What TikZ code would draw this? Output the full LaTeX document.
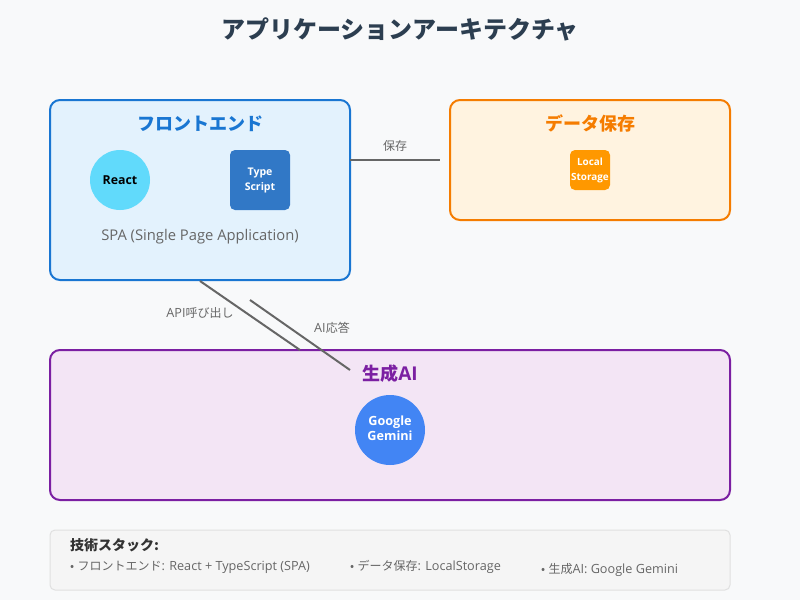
\documentclass[tikz,border=0pt]{standalone}
\usepackage{fontspec}
\setmainfont[Scale=1.055]{Open Sans}
\newfontfamily\jpfont{Noto Sans CJK JP}
\newcommand{\jp}[1]{{\jpfont #1}}
\definecolor{pagebg}{HTML}{F8F9FA}
\definecolor{titlecol}{HTML}{2C3E50}
\definecolor{linecol}{HTML}{666666}
\definecolor{frontcol}{HTML}{1976D2}
\definecolor{frontbg}{HTML}{E3F2FD}
\definecolor{storecol}{HTML}{F57C00}
\definecolor{storebg}{HTML}{FFF3E0}
\definecolor{genaicol}{HTML}{7B1FA2}
\definecolor{genaibg}{HTML}{F3E5F5}
\definecolor{stackcol}{HTML}{E0E0E0}
\definecolor{stackbg}{HTML}{F5F5F5}
\definecolor{reactcol}{HTML}{61DAFB}
\definecolor{typecol}{HTML}{3178C6}
\definecolor{localcol}{HTML}{FF9800}
\definecolor{geminicol}{HTML}{4285F4}
\tikzset{
	groupbox/.style={draw,line width=2pt,rounded corners=10pt,minimum width=#1,inner sep=0pt},
	grouptitle/.style={anchor=base,font=\fontsize{18}{20}\selectfont\bfseries},
	logotext/.style={align=center,inner sep=0pt,text=white,font=\fontsize{10}{15}\selectfont\bfseries},
	linklabel/.style={anchor=base,text=linecol,font=\fontsize{12}{14}\selectfont},
	stackitem/.style={anchor=base west,inner sep=0pt,text=linecol,font=\fontsize{12}{14}\selectfont},
	link/.style={draw=linecol,line width=2pt},
}
\begin{document}
\begin{tikzpicture}[x=1pt,y=-1pt]
	\useasboundingbox[fill=pagebg] (0,0) rectangle (800,600);
	\node[anchor=base,text=titlecol,font=\fontsize{24}{26}\selectfont\bfseries] (title) at (400,38.5) {\jp{アプリケーションアーキテクチャ}};
	%
	\node[groupbox=300pt,minimum height=180pt,draw=frontcol,fill=frontbg] (frontend) at (200,190) {};
	\node[groupbox=280pt,minimum height=120pt,draw=storecol,fill=storebg] (storage) at (590,160) {};
	\node[groupbox=680pt,minimum height=150pt,draw=genaicol,fill=genaibg] (genai) at (390,425) {};
	\node[draw=stackcol,line width=1pt,rounded corners=5pt,fill=stackbg,minimum width=680pt,minimum height=60pt,inner sep=0pt] (stack) at (390,560) {};
	%
	\node[grouptitle,text=frontcol] (frontendtitle) at (200,130) {\jp{フロントエンド}};
	\node[grouptitle,text=storecol] (storagetitle) at (590,130) {\jp{データ保存}};
	\node[grouptitle,text=genaicol] (genaititle) at (390,380) {\jp{生成}AI};
	%
	\node[circle,minimum size=60pt,inner sep=0pt,fill=reactcol,font=\fontsize{11.7}{14}\selectfont\bfseries,text height=10pt] (react) at (120,180) {React};
	\node[logotext,minimum size=60pt,rounded corners=5pt,fill=typecol] (typescript) at (260,180) {Type\\Script};
	\node[anchor=base,text=linecol,font=\fontsize{14}{16}\selectfont] (spa) at (200,240) {SPA (Single Page Application)};
	\node[logotext,minimum size=40pt,rounded corners=5pt,fill=localcol,font=\fontsize{9.4}{15}\selectfont\bfseries] (localstorage) at (590,170) {Local\\Storage};
	\node[logotext,circle,minimum size=70pt,fill=geminicol,font=\fontsize{12}{15}\selectfont\bfseries,text depth=3.5pt] (gemini) at (390,430) {Google\\Gemini};
	%
	\coordinate (savefrom) at (350,160);
	\coordinate (saveto) at (440,160);
	\coordinate (apito) at (300,350);
	\coordinate (aifrom) at (350,370);
	\coordinate (aito) at (250,300);
	\draw[link] (savefrom) -- (saveto);
	\draw[link] (frontend.south) -- (apito);
	\draw[link] (aifrom) -- (aito);
	%
	\node[linklabel] (savelabel) at (395,150) {\jp{保存}};
	\node[linklabel] (apilabel) at (200,317) {API\jp{呼び出し}};
	\node[linklabel] (ailabel) at (332,332) {AI\jp{応答}};
	%
	\node[anchor=base west,inner sep=0pt,text=black!80,font=\fontsize{14}{16}\selectfont\bfseries] (stacktitle) at (70,550) {\jp{技術スタック:}};
	\node[stackitem] (stackfront) at (70,570) {\jp{•} \jp{フロントエンド}: React + TypeScript (SPA)};
	\node[stackitem] (stackstore) at (350,570) {\jp{•} \jp{データ保存}: LocalStorage};
	\node[stackitem] (stackai) at (541,573) {\jp{•} \jp{生成}AI: Google Gemini};
\end{tikzpicture}
\end{document}
